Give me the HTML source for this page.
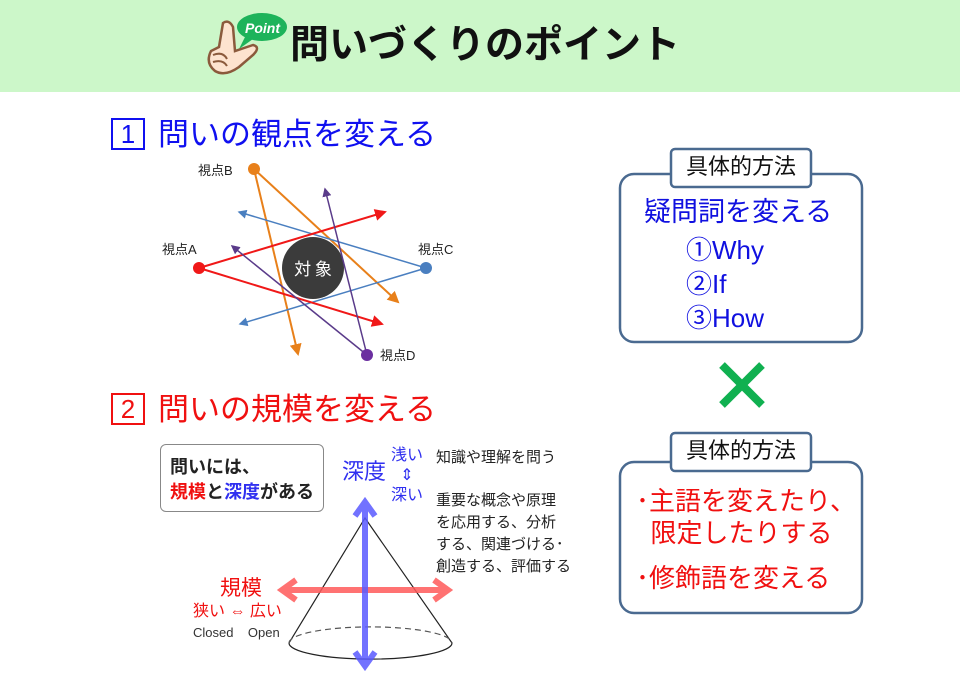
<!DOCTYPE html>
<html><head><meta charset="utf-8"><style>
body{margin:0;width:960px;height:683px;background:#fff;position:relative;overflow:hidden;font-family:"Liberation Sans","Noto Sans CJK JP",sans-serif}
.a{position:absolute;white-space:nowrap;line-height:1}
</style></head><body>
<div class="a" style="left:0;top:0;width:960px;height:92px;background:#ccf7c9"></div>
<svg class="a" style="left:195px;top:5px" width="95" height="80" viewBox="0 0 95 80">
<ellipse cx="67" cy="22" rx="25" ry="14" fill="#1db35a"/>
<path d="M50 32 L44 44 L58 34Z" fill="#1db35a"/>
<text x="50" y="28" font-size="14" font-weight="bold" fill="#fff" font-style="italic" font-family="Liberation Sans">Point</text>
<path d="M28 18 Q34 14 38 22 L40 46 L58 40 Q66 42 58 50 L44 62 Q30 72 20 66 Q10 58 16 46 L24 42Z" fill="#fde3cf" stroke="#8b5a3c" stroke-width="2.5"/>
<path d="M18 50 Q28 46 32 54 M18 57 Q28 54 32 61" fill="none" stroke="#8b5a3c" stroke-width="2"/>
</svg>
<div class="a" style="left:290px;top:26px;font-size:39px;font-weight:bold;color:#111">問いづくりのポイント</div>

<div class="a" style="left:111px;top:118px;width:30px;height:28px;border:2px solid #1010f0;color:#1010f0;font-size:26px;text-align:center;line-height:28px">1</div>
<div class="a" style="left:158px;top:119px;font-size:31px;color:#1010f0">問いの観点を変える</div>
<div class="a" style="left:111px;top:393px;width:30px;height:28px;border:2px solid #f01010;color:#f01010;font-size:26px;text-align:center;line-height:28px">2</div>
<div class="a" style="left:158px;top:394px;font-size:31px;color:#f01010">問いの規模を変える</div>

<svg class="a" style="left:0;top:0" width="960" height="683">
<defs>
<marker id="m" markerWidth="6" markerHeight="6" refX="5" refY="3" orient="auto"><path d="M0 0L6 3L0 6Z" fill="context-stroke"/></marker>
</defs>
<g stroke-width="2" marker-end="url(#m)">
<line x1="254" y1="169" x2="298" y2="354" stroke="#e8801a"/>
<line x1="254" y1="169" x2="398" y2="302" stroke="#e8801a"/>
<line x1="426" y1="268" x2="239" y2="212" stroke="#4a7fc0" stroke-width="1.5"/>
<line x1="426" y1="268" x2="240" y2="324" stroke="#4a7fc0" stroke-width="1.5"/>
</g>
<circle cx="313" cy="268" r="31" fill="#3b3b3b"/>
<text x="313" y="275" font-size="17" fill="#fff" text-anchor="middle" font-family="Noto Sans CJK JP">対 象</text>
<g stroke-width="2" marker-end="url(#m)">
<line x1="199" y1="268" x2="385" y2="212" stroke="#f01818"/>
<line x1="199" y1="268" x2="382" y2="324" stroke="#f01818"/>
<line x1="367" y1="355" x2="325" y2="189" stroke="#5a3b8a" stroke-width="1.5"/>
<line x1="367" y1="355" x2="232" y2="246" stroke="#5a3b8a" stroke-width="1.5"/>
</g>
<circle cx="254" cy="169" r="6" fill="#e8801a"/>
<circle cx="199" cy="268" r="6" fill="#f01818"/>
<circle cx="426" cy="268" r="6" fill="#4a7fc0"/>
<circle cx="367" cy="355" r="6" fill="#6b2fa0"/>
<g font-size="13" fill="#222" font-family="Liberation Sans,Noto Sans CJK JP">
<text x="198" y="175">視点B</text><text x="162" y="254">視点A</text><text x="418" y="254">視点C</text><text x="380" y="360">視点D</text>
</g>

<path d="M289 643 L365 518 L452 643" fill="none" stroke="#222" stroke-width="1.2"/>
<path d="M289 643 A81 16 0 0 0 452 643" fill="none" stroke="#222" stroke-width="1.2"/>
<path d="M289 643 A81 16 0 0 1 452 643" fill="none" stroke="#555" stroke-width="1.2" stroke-dasharray="6 4"/>
<g stroke="#ff5a5a" stroke-width="6" fill="none" opacity="0.85">
<line x1="282" y1="590" x2="448" y2="590"/>
<path d="M296 580 L282 590 L296 600 M434 580 L448 590 L434 600"/>
</g>
<g stroke="#5a5aff" stroke-width="6" fill="none" opacity="0.85">
<line x1="365" y1="502" x2="365" y2="666"/>
<path d="M355 516 L365 502 L375 516 M355 652 L365 666 L375 652"/>
</g>
<rect x="620" y="174" width="242" height="168" rx="14" fill="#fff" stroke="#4a6a90" stroke-width="2.5"/>
<rect x="671" y="149" width="140" height="38" rx="4" fill="#fff" stroke="#4a6a90" stroke-width="2.5"/>
<rect x="620" y="462" width="242" height="151" rx="14" fill="#fff" stroke="#4a6a90" stroke-width="2.5"/>
<rect x="671" y="433" width="140" height="38" rx="4" fill="#fff" stroke="#4a6a90" stroke-width="2.5"/>
<g stroke="#10b050" stroke-width="8"><line x1="722" y1="365" x2="762" y2="405"/><line x1="762" y1="365" x2="722" y2="405"/></g>
</svg>

<div class="a" style="left:160px;top:444px;width:162px;height:66px;border:1px solid #888;border-radius:6px"></div>
<div class="a" style="left:170px;top:455px;font-size:18px;font-weight:bold;color:#222;line-height:25px">問いには、<br><span style="color:#f01010">規模</span>と<span style="color:#3030f0">深度</span>がある</div>
<div class="a" style="left:342px;top:461px;font-size:22px;color:#3030f0">深度</div>
<div class="a" style="left:391px;top:446px;font-size:16px;color:#3030f0;line-height:20px;text-align:center">浅い<br>⇕<br>深い</div>
<div class="a" style="left:436px;top:450px;font-size:15px;color:#222">知識や理解を問う</div>
<div class="a" style="left:436px;top:490px;font-size:15px;color:#222;line-height:22px">重要な概念や原理<br>を応用する、分析<br>する、関連づける･<br>創造する、評価する</div>
<div class="a" style="left:220px;top:578px;font-size:21px;color:#f01010">規模</div>
<div class="a" style="left:193px;top:604px;font-size:16px;color:#f01010">狭い ⇔ 広い</div>
<div class="a" style="left:193px;top:626px;font-size:13px;color:#333">Closed&nbsp;&nbsp;&nbsp;&nbsp;Open</div>

<div class="a" style="left:671px;top:156px;width:140px;text-align:center;font-size:22px;color:#111">具体的方法</div>
<div class="a" style="left:671px;top:440px;width:140px;text-align:center;font-size:22px;color:#111">具体的方法</div>
<div class="a" style="left:644px;top:199px;font-size:27px;color:#1010e0">疑問詞を変える</div>
<div class="a" style="left:686px;top:233px;font-size:26px;color:#1010e0;line-height:34px">①Why<br>②If<br>③How</div>
<div class="a" style="left:636px;top:485px;font-size:26px;color:#f01010;line-height:32px">･主語を変えたり、<br>&nbsp;&nbsp;限定したりする</div>
<div class="a" style="left:636px;top:565px;font-size:26px;color:#f01010">･修飾語を変える</div>
</body></html>
